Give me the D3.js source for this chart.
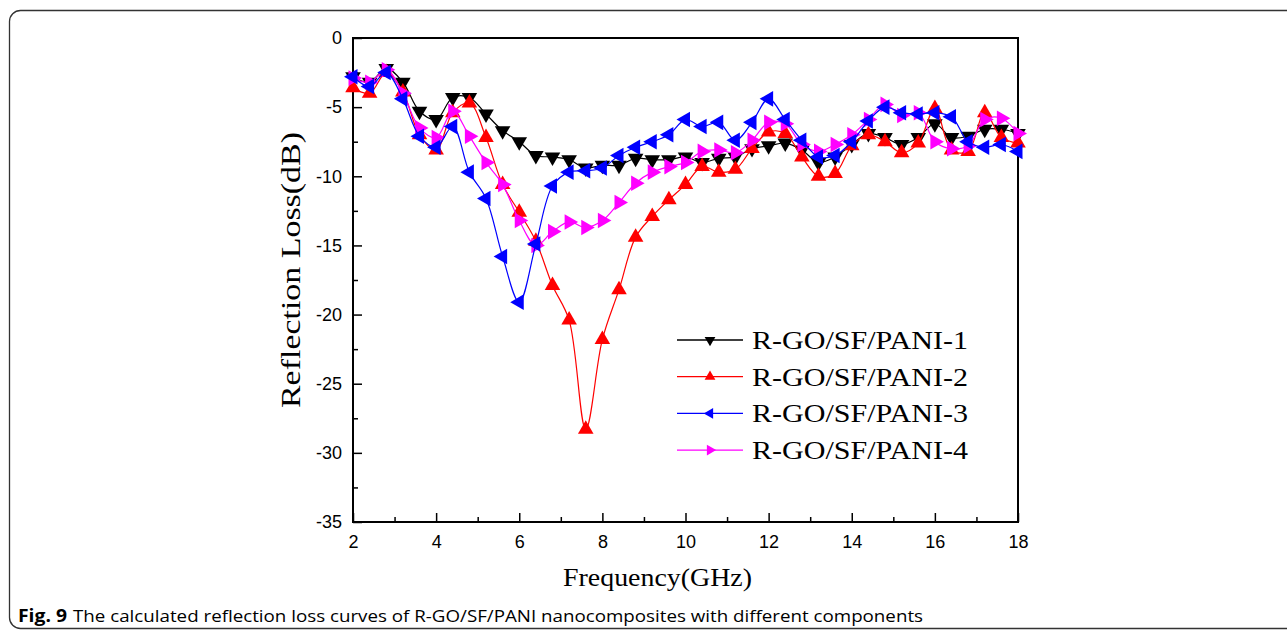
<!DOCTYPE html>
<html>
<head>
<meta charset="utf-8">
<script src="https://cdn.jsdelivr.net/npm/d3@7"></script>
<style>
  body { margin: 0; background: #fff; }
  svg { display: block; }
</style>
</head>
<body>
<svg id="chart" width="1287" height="634"></svg>
<script>
// frequency grid (GHz), one point per marker
const freq = d3.range(41).map((i) => +(2 + i * 0.4).toFixed(1));

const pani1 = [-2.8, -3.2, -2.2, -3.2, -5.3, -5.9, -4.3, -4.3, -5.5, -6.7, -7.5, -8.5, -8.6, -8.8, -9.4, -9.2,
  -9.2, -8.7, -8.8, -8.8, -8.6, -9.0, -8.7, -8.6, -8.0, -7.8, -7.6, -8.1, -9.0, -8.6, -7.7, -6.9, -7.2, -7.7,
  -7.2, -6.2, -7.2, -7.1, -6.6, -6.6, -6.9];
const pani2 = [-3.6, -4.0, -2.5, -3.9, -7.0, -8.1, -5.4, -4.7, -7.2, -10.6, -12.6, -14.7, -17.9, -20.4, -28.3, -21.8,
  -18.2, -14.4, -12.9, -11.7, -10.6, -9.3, -9.7, -9.5, -8.0, -6.8, -6.9, -8.6, -10.0, -9.8, -7.8, -7.0, -7.5, -8.3,
  -7.6, -5.1, -8.1, -8.2, -5.4, -7.2, -7.6];
const pani3 = [-2.8, -3.5, -2.5, -4.4, -7.1, -7.9, -6.4, -9.7, -11.6, -15.8, -19.1, -14.9, -10.7, -9.7, -9.6, -9.4,
  -8.5, -7.9, -7.5, -7.0, -5.9, -6.4, -6.1, -7.4, -6.1, -4.4, -5.9, -7.4, -8.6, -8.5, -7.5, -6.0, -5.0, -5.4,
  -5.5, -5.4, -5.7, -7.5, -7.9, -7.7, -8.2];
const pani4 = [-2.9, -3.2, -2.3, -4.0, -6.5, -7.2, -5.3, -7.1, -9.0, -10.6, -13.2, -15.0, -14.0, -13.3, -13.7, -13.2,
  -11.9, -10.5, -9.7, -9.3, -9.0, -8.2, -8.1, -8.3, -7.4, -6.1, -6.2, -7.7, -8.2, -7.7, -7.0, -5.9, -4.8, -5.6,
  -5.4, -7.5, -8.0, -7.8, -5.9, -5.8, -6.9];

const seriesNames = ["R-GO/SF/PANI-1", "R-GO/SF/PANI-2", "R-GO/SF/PANI-3", "R-GO/SF/PANI-4"];
const seriesValues = [pani1, pani2, pani3, pani4];
const seriesColors = ["#000000", "#ff0000", "#0000ff", "#ff00ff"];
const seriesRotate = [180, 0, -90, 90]; // triangle direction
const drawOrder = [0, 1, 3, 2];

const xTicks = [2, 4, 6, 8, 10, 12, 14, 16, 18];
const yTicks = [0, -5, -10, -15, -20, -25, -30, -35];

const svg = d3.select("#chart");

// caption frame
svg.append("rect")
  .attr("x", 9.5).attr("y", 10.5)
  .attr("width", 1300).attr("height", 618)
  .attr("rx", 11)
  .attr("fill", "none")
  .attr("stroke", "#333")
  .attr("stroke-width", 1.3);

const x = d3.scaleLinear().domain([2, 18]).range([353, 1018]);
const y = d3.scaleLinear().domain([-35, 0]).range([522, 38]);

const tickFont = "'Liberation Sans Narrow', 'Liberation Sans', Arial, sans-serif";
const serif = "'Liberation Serif', 'Times New Roman', serif";
const plain = (d) => String(d); // keep ASCII hyphen for negatives

// minor ticks
svg.append("g")
  .attr("transform", `translate(0,${y(-35)})`)
  .call(d3.axisBottom(x).tickValues(d3.range(3, 18, 2)).tickSize(-5).tickFormat(""))
  .call((g) => g.select(".domain").remove())
  .call((g) => g.selectAll("line").attr("stroke-width", 1.5));
svg.append("g")
  .attr("transform", `translate(${x(2)},0)`)
  .call(d3.axisLeft(y).tickValues(d3.range(-2.5, -35, -5)).tickSize(-5).tickFormat(""))
  .call((g) => g.select(".domain").remove())
  .call((g) => g.selectAll("line").attr("stroke-width", 1.5));

// major ticks
svg.append("g")
  .attr("transform", `translate(0,${y(-35)})`)
  .call(d3.axisBottom(x).tickValues(xTicks).tickSize(-9).tickPadding(13).tickFormat(plain))
  .call((g) => g.select(".domain").remove())
  .call((g) => g.selectAll("line").attr("stroke-width", 1.5))
  .call((g) => g.selectAll("text").attr("font-family", tickFont).attr("font-size", 18).attr("fill", "#000"));
svg.append("g")
  .attr("transform", `translate(${x(2)},0)`)
  .call(d3.axisLeft(y).tickValues(yTicks).tickSize(-9).tickPadding(11).tickFormat(plain))
  .call((g) => g.select(".domain").remove())
  .call((g) => g.selectAll("line").attr("stroke-width", 1.5))
  .call((g) => g.selectAll("text").attr("font-family", tickFont).attr("font-size", 18).attr("fill", "#000"));

// plot frame
svg.append("rect")
  .attr("x", x(2)).attr("y", y(0))
  .attr("width", x(18) - x(2)).attr("height", y(-35) - y(0))
  .attr("fill", "none")
  .attr("stroke", "#000")
  .attr("stroke-width", 2);

const line = d3.line()
  .x((d) => x(d[0]))
  .y((d) => y(d[1]))
  .curve(d3.curveCatmullRom);

const markerBig = d3.symbol().type(d3.symbolTriangle).size(105);
const markerSmall = d3.symbol().type(d3.symbolTriangle).size(50);

const plot = svg.append("g");
drawOrder.forEach((i) => {
  const pts = freq.map((f, k) => [f, seriesValues[i][k]]);
  const g = plot.append("g");
  g.append("path")
    .attr("d", line(pts))
    .attr("fill", "none")
    .attr("stroke", seriesColors[i])
    .attr("stroke-width", 1.2);
  g.selectAll("path.m")
    .data(pts)
    .join("path")
    .attr("class", "m")
    .attr("d", markerBig)
    .attr("fill", seriesColors[i])
    .attr("transform", (d) => `translate(${x(d[0])},${y(d[1])}) rotate(${seriesRotate[i]})`);
});

// legend
const legend = svg.append("g");
seriesNames.forEach((name, i) => {
  const ly = 340 + i * 36.7;
  legend.append("line")
    .attr("x1", 677).attr("x2", 743)
    .attr("y1", ly).attr("y2", ly)
    .attr("stroke", seriesColors[i])
    .attr("stroke-width", 1.3);
  legend.append("path")
    .attr("d", markerSmall)
    .attr("fill", seriesColors[i])
    .attr("transform", `translate(710,${ly}) rotate(${seriesRotate[i]})`);
  legend.append("text")
    .attr("x", 752).attr("y", ly + 9)
    .attr("font-family", serif)
    .attr("font-size", 26)
    .attr("textLength", 216)
    .attr("lengthAdjust", "spacingAndGlyphs")
    .text(name);
});

// axis titles
svg.append("text")
  .attr("x", 563).attr("y", 586)
  .attr("font-family", serif)
  .attr("font-size", 26)
  .attr("textLength", 189)
  .attr("lengthAdjust", "spacingAndGlyphs")
  .text("Frequency(GHz)");

svg.append("text")
  .attr("transform", "translate(300,408) rotate(-90)")
  .attr("font-family", serif)
  .attr("font-size", 27)
  .attr("textLength", 276)
  .attr("lengthAdjust", "spacingAndGlyphs")
  .text("Reflection Loss(dB)");

// caption
svg.append("text")
  .attr("x", 18).attr("y", 622)
  .attr("font-family", "'Open Sans', sans-serif")
  .attr("font-weight", "bold")
  .attr("font-size", 17)
  .attr("textLength", 49)
  .attr("lengthAdjust", "spacingAndGlyphs")
  .text("Fig. 9");
svg.append("text")
  .attr("x", 73).attr("y", 622)
  .attr("font-family", "'Open Sans', sans-serif")
  .attr("font-size", 17)
  .attr("textLength", 850)
  .attr("lengthAdjust", "spacingAndGlyphs")
  .text("The calculated reflection loss curves of R-GO/SF/PANI nanocomposites with different components");
</script>
</body>
</html>
